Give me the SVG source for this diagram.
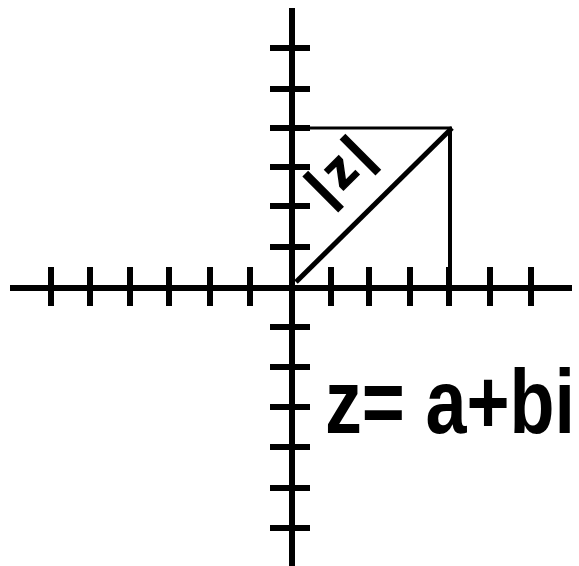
<svg xmlns="http://www.w3.org/2000/svg" width="579" height="566" viewBox="0 0 579 566">
<style>
.ax{stroke:#000;stroke-width:6;fill:none}
.tk{stroke:#000;stroke-width:6}
.thin{stroke:#000;fill:none}
.lbl{font-family:"Liberation Sans",Arial,sans-serif;font-weight:bold;fill:#000}
</style>
<rect width="579" height="566" fill="#fff"/>
<g id="axes">
<line class="ax" x1="10" y1="288" x2="572" y2="288"/>
<line class="ax" x1="292" y1="8" x2="292" y2="566"/>
</g>
<g id="ticks-x">
<line class="tk" x1="51" y1="267" x2="51" y2="306"/>
<line class="tk" x1="90" y1="267" x2="90" y2="306"/>
<line class="tk" x1="130" y1="267" x2="130" y2="306"/>
<line class="tk" x1="169" y1="267" x2="169" y2="306"/>
<line class="tk" x1="210" y1="267" x2="210" y2="306"/>
<line class="tk" x1="250" y1="267" x2="250" y2="306"/>
<line class="tk" x1="331" y1="267" x2="331" y2="306"/>
<line class="tk" x1="369" y1="267" x2="369" y2="306"/>
<line class="tk" x1="410" y1="267" x2="410" y2="306"/>
<line class="tk" x1="449" y1="267" x2="449" y2="306"/>
<line class="tk" x1="490" y1="267" x2="490" y2="306"/>
<line class="tk" x1="531" y1="267" x2="531" y2="306"/>
</g>
<g id="ticks-y">
<line class="tk" x1="270" y1="48" x2="310" y2="48"/>
<line class="tk" x1="270" y1="89" x2="310" y2="89"/>
<line class="tk" x1="270" y1="128" x2="310" y2="128"/>
<line class="tk" x1="270" y1="167" x2="310" y2="167"/>
<line class="tk" x1="270" y1="206" x2="310" y2="206"/>
<line class="tk" x1="270" y1="247" x2="310" y2="247"/>
<line class="tk" x1="270" y1="327" x2="310" y2="327"/>
<line class="tk" x1="270" y1="367" x2="310" y2="367"/>
<line class="tk" x1="270" y1="407" x2="310" y2="407"/>
<line class="tk" x1="270" y1="447" x2="310" y2="447"/>
<line class="tk" x1="270" y1="488" x2="310" y2="488"/>
<line class="tk" x1="270" y1="528" x2="310" y2="528"/>
</g>
<g id="triangle">
<line class="thin" stroke-width="3" x1="292" y1="128" x2="452" y2="128"/>
<line class="thin" stroke-width="4" x1="450" y1="127" x2="450" y2="268"/>
<line class="thin" stroke-width="5" x1="296" y1="282" x2="452" y2="128"/>
</g>
<g id="modulus-label">
<text class="lbl" transform="translate(344,171) rotate(-45)" y="13" font-size="52" text-anchor="middle" letter-spacing="6" stroke="#000" stroke-width="1.5">|z|</text>
</g>
<g id="equation">
<text class="lbl" x="325" y="433" font-size="90" textLength="250" lengthAdjust="spacingAndGlyphs">z= a+bi</text>
</g>
</svg>
